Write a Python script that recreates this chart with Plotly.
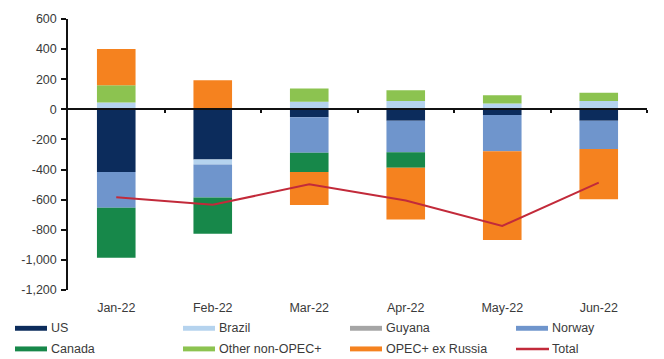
import plotly.graph_objects as go

# Monthly change in supply by source (kb/d)
months = ["Jan-22", "Feb-22", "Mar-22", "Apr-22", "May-22", "Jun-22"]
us = [-416, -333, -53, -75, -37, -75]
brazil = [45, -33, 50, 55, 38, 55]
guyana = [0, 0, 0, 0, 0, 0]
norway = [-238, -220, -236, -210, -241, -188]
canada = [-331, -241, -128, -103, 0, 0]
other_non_opec = [115, 0, 88, 72, 56, 55]
opec_ex_russia = [241, 193, -219, -344, -590, -334]
total = [-584, -634, -498, -605, -774, -487]

y_ticks = [600, 400, 200, 0, -200, -400, -600, -800, -1000, -1200]
y_tick_text = ["600", "400", "200", "0", "-200", "-400", "-600", "-800", "-1,000", "-1,200"]

series_names = ["US", "Brazil", "Guyana", "Norway", "Canada",
                "Other non-OPEC+", "OPEC+ ex Russia", "Total"]
series_values = [us, brazil, guyana, norway, canada, other_non_opec, opec_ex_russia]
colors = ["#0c2c5c", "#b5d3ee", "#a5a5a5", "#6f95cc", "#17884a",
          "#8cc350", "#f5821f", "#c22a3a"]

W, H = 664, 359
L, R, T, B = 68, 647, 14, 290  # plot area in pixels

fig = go.Figure()
for name, vals, col in zip(series_names[:-1], series_values, colors[:-1]):
    fig.add_trace(go.Bar(x=months, y=vals, name=name, marker_color=col,
                         marker_line_width=0, showlegend=False))
fig.add_trace(go.Scatter(x=months, y=total, name="Total", mode="lines",
                         line=dict(color=colors[-1], width=2), showlegend=False))
# helper trace so the zero-line axis with boundary ticks gets drawn
fig.add_trace(go.Scatter(x=[0], y=[0], xaxis="x2", mode="markers",
                         marker=dict(opacity=0), hoverinfo="skip", showlegend=False))

font = dict(family="Liberation Sans, Arial, sans-serif", size=12.5, color="#3a3a3a")


def px_x(px):
    return (px - L) / (R - L)


def px_y(py):
    return (B - py) / (B - T)


# Hand-made legend with wide swatches, four columns by two rows
col_x = [15, 183, 350, 516]
row_y = [329, 350]
shapes = []
annotations = []
for i, (name, col) in enumerate(zip(series_names, colors)):
    cx = col_x[i % 4]
    cy = row_y[i // 4]
    if name == "Total":
        shapes.append(dict(type="line", xref="paper", yref="paper",
                           x0=px_x(cx), x1=px_x(cx + 33), y0=px_y(cy), y1=px_y(cy),
                           line=dict(color=col, width=2.5)))
    else:
        shapes.append(dict(type="rect", xref="paper", yref="paper",
                           x0=px_x(cx), x1=px_x(cx + 32), y0=px_y(cy - 2.5), y1=px_y(cy + 2.5),
                           fillcolor=col, line=dict(width=0)))
    annotations.append(dict(text=name, xref="paper", yref="paper",
                            x=px_x(cx + 34), y=px_y(cy), xanchor="left", yanchor="middle",
                            showarrow=False, font=font))

fig.update_layout(
    width=W, height=H,
    margin=dict(l=L, r=W - R, t=T, b=H - B, pad=0),
    paper_bgcolor="white", plot_bgcolor="white",
    barmode="relative", bargap=0.6,
    font=font,
    shapes=shapes, annotations=annotations,
    xaxis=dict(showline=False, showgrid=False, zeroline=False, ticks="",
               tickfont=font, ticklabelstandoff=8),
    xaxis2=dict(overlaying="x", anchor="free", position=2 / 3, range=[-0.5, 5.5],
                showline=True, linecolor="#111111", linewidth=1.5, showgrid=False,
                zeroline=False, ticks="outside", ticklen=3, tickwidth=1.5,
                tickcolor="#111111", tickvals=[0.5, 1.5, 2.5, 3.5, 4.5, 5.5],
                showticklabels=False),
    yaxis=dict(range=[-1200, 600], tickvals=y_ticks, ticktext=y_tick_text,
               showline=True, linecolor="#111111", linewidth=1.5, showgrid=False,
               zeroline=False, ticks="outside", ticklen=5, tickwidth=1.5,
               tickcolor="#111111", tickfont=font, ticklabelstandoff=2),
)

fig.write_html("out.html")
